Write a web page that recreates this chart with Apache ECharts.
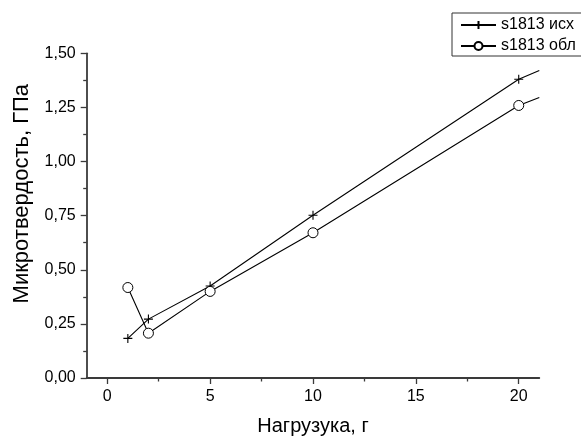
<!DOCTYPE html>
<html>
<head>
<meta charset="utf-8">
<script src="https://cdn.jsdelivr.net/npm/echarts@6/dist/echarts.min.js"></script>
<style>html,body{margin:0;padding:0;background:#fff}#c{width:581px;height:441px}</style>
</head>
<body>
<div id="c"></div>
<script>
// Data
const loads = [1, 2, 5, 10, 20];
const ishod = [0.183, 0.272, 0.425, 0.752, 1.380];
const obl = [0.418, 0.207, 0.400, 0.671, 1.259];
// line continuation to the right edge of the plot (no marker)
const extLoad = 21;
const ishodExt = 1.420;
const oblExt = 1.296;
const xMajorTicks = [0, 5, 10, 15, 20];
const xMinorTicks = [2.5, 7.5, 12.5, 17.5];
const seriesNames = ['s1813 исх', 's1813 обл'];
const xName = 'Нагрузука, г';
const yName = 'Микротвердость, ГПа';

const FONT = 'Arial, "Liberation Sans", sans-serif';
const AX = '#3a3a3a';

function build(ys, ext) {
  const d = loads.map((x, i) => [x, ys[i]]);
  d.push({ value: [extLoad, ext], symbol: 'none' });
  return d;
}

const chart = echarts.init(document.getElementById('c'), null, { renderer: 'canvas' });
chart.setOption({
  animation: false,
  backgroundColor: '#fff',
  textStyle: { fontFamily: FONT },
  grid: { left: 86.7, right: 41.7, top: 53.3, bottom: 62, containLabel: false },
  legend: {
    orient: 'vertical',
    left: 452, top: 13,
    padding: [4, 40, 2, 8],
    itemGap: 5,
    itemWidth: 35,
    itemHeight: 10,
    borderColor: '#333',
    borderWidth: 1,
    backgroundColor: '#fff',
    textStyle: { fontSize: 16, color: '#000', fontFamily: FONT },
    data: seriesNames
  },
  xAxis: [{
    type: 'value', min: -1, max: 21,
    name: xName, nameLocation: 'middle', nameGap: 38,
    nameTextStyle: { fontSize: 20, color: '#000', fontFamily: FONT },
    axisLine: { show: true, onZero: false, lineStyle: { color: AX, width: 1.8 } },
    axisTick: { show: true, customValues: xMajorTicks, length: 6, lineStyle: { color: AX, width: 1.3 } },
    axisLabel: { show: true, customValues: xMajorTicks, margin: 11, fontSize: 16, color: '#000', fontFamily: FONT },
    splitLine: { show: false }
  }, {
    type: 'value', min: -1, max: 21, position: 'bottom',
    axisLine: { show: false },
    axisTick: { show: true, customValues: xMinorTicks, length: 3.5, lineStyle: { color: AX, width: 1.3 } },
    axisLabel: { show: false },
    splitLine: { show: false }
  }],
  yAxis: {
    type: 'value', min: 0, max: 1.5, interval: 0.25,
    name: yName, nameLocation: 'middle', nameGap: 54,
    nameTextStyle: { fontSize: 22, color: '#000', fontFamily: FONT, padding: [0, 0, 0, 44] },
    axisLine: { show: true, onZero: false, lineStyle: { color: AX, width: 1.8 } },
    axisTick: { show: true, length: 6, lineStyle: { color: AX, width: 1.3 } },
    minorTick: { show: true, splitNumber: 2, length: 3.5, lineStyle: { color: AX, width: 1.3 } },
    axisLabel: { margin: 11, fontSize: 16, color: '#000', fontFamily: FONT,
      formatter: v => v.toFixed(2).replace('.', ',') },
    splitLine: { show: false }
  },
  series: [{
    name: seriesNames[0], type: 'line', data: build(ishod, ishodExt),
    symbol: 'path://M0,5 L10,5 M5,0 L5,10', symbolSize: 9,
    lineStyle: { color: '#000', width: 1.1 },
    itemStyle: { color: '#000', borderColor: '#000', borderWidth: 1.1 },
    clip: true
  }, {
    name: seriesNames[1], type: 'line', data: build(obl, oblExt),
    symbol: 'circle', symbolSize: 10,
    lineStyle: { color: '#000', width: 1.1 },
    itemStyle: { color: '#fff', borderColor: '#000', borderWidth: 1 },
    clip: true
  }]
});
</script>
</body>
</html>
